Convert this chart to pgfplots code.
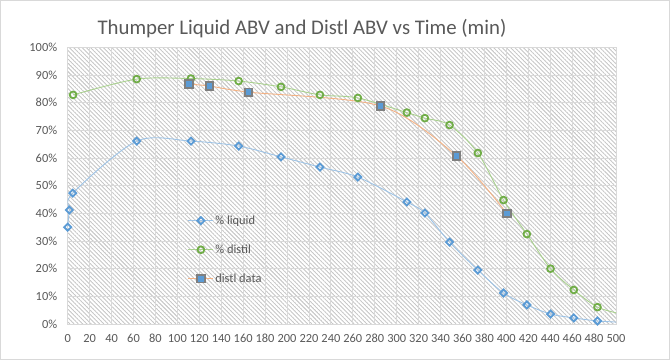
\documentclass[border=0pt]{standalone}
\usepackage{fontspec}
\setmainfont{Carlito}
\usepackage{pgfplots}
\pgfplotsset{compat=1.18}
\usetikzlibrary{patterns.meta}
\definecolor{txt}{HTML}{595959}
\definecolor{mblue}{HTML}{5B9BD5}
\definecolor{lblue}{HTML}{9DC3E6}
\definecolor{mgreen}{HTML}{70AD47}
\definecolor{lgreen}{HTML}{A9D18E}
\definecolor{lorange}{HTML}{F4B183}
\definecolor{mgray}{HTML}{7F7F7F}
\tikzdeclarepattern{
  name=hatch,
  type=uncolored,
  bounding box={(0,-0.6bp) and (3bp,0.6bp)},
  tile size={(3bp,3bp)},
  tile transformation={rotate=-45},
  code={\draw[line width=0.9bp] (-0.1bp,0) -- (3.1bp,0);}
}
\begin{document}
\begin{tikzpicture}[x=1bp,y=1bp]
\useasboundingbox (0,0) rectangle (672,360);
\fill[white] (0,0) rectangle (672,360);
\draw[black!15, line width=1bp] (0.5,0.5) rectangle (669,359.5);
\node[font=\fontsize{20.8bp}{24bp}\selectfont, text=txt] at (302,331) {Thumper Liquid ABV and Distl ABV vs Time (min)};
\begin{axis}[
  at={(67.7bp,36bp)}, anchor=south west, scale only axis,
  width=548.3bp, height=276.7bp,
  xmin=0, xmax=500, ymin=0, ymax=100,
  xtick={0,20,...,500}, ytick={0,10,...,100},
  grid=major, grid style={draw=black!15, line width=0.9bp},
  axis line style={draw=black!15, line width=0.9bp},
  major tick length=0pt,
  axis background/.style={pattern={hatch}, pattern color=black!22},
  ticklabel style={font=\fontsize{12.4bp}{14bp}\selectfont, text=txt},
  xticklabel style={yshift=-7bp},
  yticklabel style={xshift=-7bp},
  yticklabel={\pgfmathprintnumber{\tick}\%},
  /pgf/number format/assume math mode=true,
  legend style={draw=none, fill=none, at={(rel axis cs:0.219,0.398)}, anchor=north west,
    font=\fontsize{12.4bp}{14bp}\selectfont, text=txt, row sep=16bp, inner sep=0pt,
    nodes={inner sep=1.5bp}},
  legend cell align=left,
]
% % liquid
\addplot[lblue, line width=0.9bp, smooth, tension=0.5, forget plot] coordinates {
(0,35.0) (1.5,41.2) (4.6,47.3) (62.9,66.1) (112.4,66.1) (155.9,64.3) (194.5,60.4)
(230,56.7) (264.6,53.1) (309.3,44.1) (325.7,40.1) (348.2,29.6) (374,19.5)
(397.4,11.2) (418.7,6.9) (440.3,3.6) (461.5,2.2) (483.1,1.1) (505,0.6)};
\addplot[only marks, mark=square, mark size=2.5bp,
  mark options={rotate=45, draw=mblue, fill=white, line width=1.8bp},
  legend image code/.code={\draw[draw=lblue,line width=0.9bp] (0bp,0bp) -- (25bp,0bp); \draw plot coordinates {(12.5bp,0bp)};}
] coordinates {
(0,35.0) (1.5,41.2) (4.6,47.3) (62.9,66.1) (112.4,66.1) (155.9,64.3) (194.5,60.4)
(230,56.7) (264.6,53.1) (309.3,44.1) (325.7,40.1) (348.2,29.6) (374,19.5)
(397.4,11.2) (418.7,6.9) (440.3,3.6) (461.5,2.2) (483.1,1.1)};
\addlegendentry{\% liquid}
% % distil
\addplot[lgreen, line width=0.9bp, smooth, tension=0.5, forget plot] coordinates {
(4.9,82.8) (62.9,88.5) (112.4,88.7) (155.9,87.8) (194.5,85.7) (230,82.8)
(264.6,81.7) (309.3,76.4) (325.7,74.4) (348.2,71.9) (374,61.8) (397.4,44.8)
(418.7,32.5) (440.3,20.0) (461.5,12.3) (483.1,6.1) (505,3.6)};
\addplot[only marks, mark=o, mark size=3.4bp,
  mark options={draw=mgreen, fill=white, line width=1.8bp},
  legend image code/.code={\draw[draw=lgreen,line width=0.9bp] (0bp,0bp) -- (25bp,0bp); \draw plot coordinates {(12.5bp,0bp)};}
] coordinates {
(4.9,82.8) (62.9,88.5) (112.4,88.7) (155.9,87.8) (194.5,85.7) (230,82.8)
(264.6,81.7) (309.3,76.4) (325.7,74.4) (348.2,71.9) (374,61.8) (397.4,44.8)
(418.7,32.5) (440.3,20.0) (461.5,12.3) (483.1,6.1)};
\addlegendentry{\% distil}
% distl data
\addplot[lorange, line width=0.9bp, smooth, tension=0.5, forget plot] coordinates {
(110.6,86.7) (129.4,86.0) (165,83.8) (285.3,78.8) (354.6,60.7) (400.5,39.9)};
\addplot[only marks, mark=square*, mark size=3.7bp,
  mark options={draw=mgray, fill=mblue, line width=1.8bp},
  legend image code/.code={\draw[draw=lorange,line width=0.9bp] (0bp,0bp) -- (25bp,0bp); \draw plot coordinates {(12.5bp,0bp)};}
] coordinates {
(110.6,86.7) (129.4,86.0) (165,83.8) (285.3,78.8) (354.6,60.7) (400.5,39.9)};
\addlegendentry{distl data}
\end{axis}
\end{tikzpicture}
\end{document}
